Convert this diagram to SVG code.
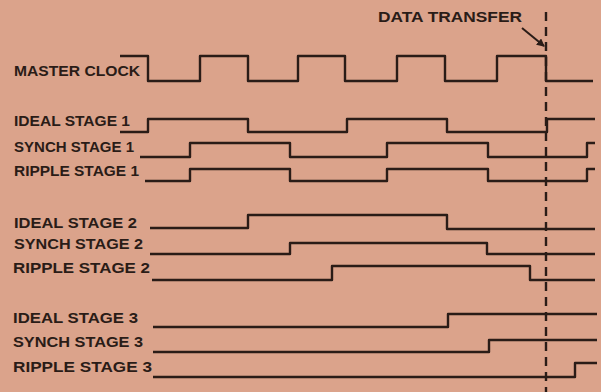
<svg xmlns="http://www.w3.org/2000/svg" width="601" height="392" viewBox="0 0 601 392">
<style>
.lbl{font-family:"Liberation Sans","DejaVu Sans",sans-serif;font-weight:bold;font-size:15px;fill:#2a1c17}
.sig{fill:none;stroke:#2a1c17;stroke-width:2.4;stroke-linejoin:round;stroke-linecap:butt}
.dash{fill:none;stroke:#2a1c17;stroke-width:2.4;stroke-dasharray:9 6}
</style>
<defs>
<marker id="ah" markerWidth="8" markerHeight="8" refX="7" refY="4" orient="auto" markerUnits="userSpaceOnUse">
<path d="M0,0 L8,4 L0,8 z" fill="#2a1c17"/>
</marker>
</defs>
<rect width="601" height="392" fill="#dba38b"/>
<g id="master-clock">
<text class="lbl" x="14" y="76" textLength="126" lengthAdjust="spacingAndGlyphs">MASTER CLOCK</text>
<path class="sig" d="M120,56 H148 V81 H200 V56 H248 V81 H298 V56 H345 V81 H397 V56 H445 V81 H497 V56 H546 V81 H593"/>
</g>
<g id="ideal-stage-1">
<text class="lbl" x="14" y="126" textLength="116" lengthAdjust="spacingAndGlyphs">IDEAL STAGE 1</text>
<path class="sig" d="M120,132 H148 V119 H248 V132 H347 V119 H447 V132 H547 V119 H595"/>
</g>
<g id="synch-stage-1">
<text class="lbl" x="14" y="152" textLength="120" lengthAdjust="spacingAndGlyphs">SYNCH STAGE 1</text>
<path class="sig" d="M140,157 H190 V143 H290 V157 H387 V143 H488 V157 H587 V143 H595"/>
</g>
<g id="ripple-stage-1">
<text class="lbl" x="14" y="176" textLength="125" lengthAdjust="spacingAndGlyphs">RIPPLE STAGE 1</text>
<path class="sig" d="M145,181 H190 V169 H290 V181 H387 V169 H488 V181 H587 V169 H595"/>
</g>
<g id="ideal-stage-2">
<text class="lbl" x="14" y="228" textLength="123" lengthAdjust="spacingAndGlyphs">IDEAL STAGE 2</text>
<path class="sig" d="M150,228 H248 V215 H447 V229 H595"/>
</g>
<g id="synch-stage-2">
<text class="lbl" x="14" y="249" textLength="129" lengthAdjust="spacingAndGlyphs">SYNCH STAGE 2</text>
<path class="sig" d="M150,254 H290 V243 H487 V254 H595"/>
</g>
<g id="ripple-stage-2">
<text class="lbl" x="13" y="273" textLength="137" lengthAdjust="spacingAndGlyphs">RIPPLE STAGE 2</text>
<path class="sig" d="M152,280 H332 V266 H530 V280 H595"/>
</g>
<g id="ideal-stage-3">
<text class="lbl" x="13" y="323" textLength="125" lengthAdjust="spacingAndGlyphs">IDEAL STAGE 3</text>
<path class="sig" d="M153,327 H448 V314 H597"/>
</g>
<g id="synch-stage-3">
<text class="lbl" x="13" y="347" textLength="130" lengthAdjust="spacingAndGlyphs">SYNCH STAGE 3</text>
<path class="sig" d="M153,352 H489 V340 H597"/>
</g>
<g id="ripple-stage-3">
<text class="lbl" x="13" y="372" textLength="139" lengthAdjust="spacingAndGlyphs">RIPPLE STAGE 3</text>
<path class="sig" d="M153,377 H575 V363 H597"/>
</g>
<g id="data-transfer">
<text class="lbl" x="378" y="22" textLength="144" lengthAdjust="spacingAndGlyphs">DATA TRANSFER</text>
</g>
<g id="connectors">
<line class="dash" x1="546" y1="12" x2="546" y2="392"/>
<line x1="522" y1="28" x2="544" y2="46" stroke="#2a1c17" stroke-width="2" marker-end="url(#ah)"/>
</g>
</svg>
